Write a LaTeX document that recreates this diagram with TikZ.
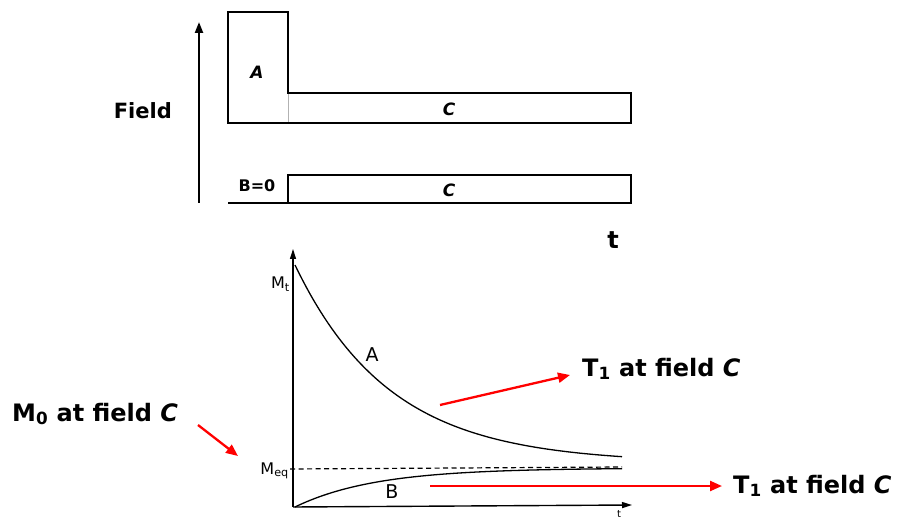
\documentclass[tikz,border=0pt]{standalone}
\usepackage{fontspec}
\setmainfont{DejaVu Sans}
\usetikzlibrary{arrows.meta}
\begin{document}
\begin{tikzpicture}[x=1pt,y=-1pt,
  box/.style={draw,line width=2.2pt,fill=white},
  big/.style={font=\fontsize{24}{28}\selectfont\bfseries,inner sep=0pt},
  mid/.style={font=\fontsize{21}{25}\selectfont\bfseries,inner sep=0pt},
  boxlbl/.style={font=\fontsize{17}{19}\selectfont\bfseries\itshape,inner sep=0pt},
  graphlbl/.style={font=\fontsize{16}{18}\selectfont,inner sep=0pt},
  redarr/.style={draw=red,line width=2.3pt,-{Triangle[length=12pt,width=10pt]}},
  axis/.style={line width=1.4pt,-{Triangle[length=10pt,width=6pt]}},
  curve/.style={line width=1.3pt}]
\useasboundingbox (0,0) rectangle (902,521);
% ---------- top: field sequence ----------
\coordinate (fb) at (199,203);
\coordinate (ft) at (199,22);
\draw[line width=2.2pt,-{Triangle[length=11pt,width=8pt]}] (fb) -- (ft);
\node[mid,anchor=east] (field) at (172,111) {Field};
\node[big] (tlbl) at (613,240) {t};
% upper sequence
\draw[box] (288,93) rectangle (631,123);
\coordinate (cA1) at (288,94);
\coordinate (cA2) at (288,122);
\draw[line width=2.2pt] (288,93) -- (288,12) -- (228,12) -- (228,123) -- (288,123);
\fill[white] (287,94.2) rectangle (289,121.8);
\draw[gray!60,line width=0.8pt] (cA1) -- (cA2);
\node[boxlbl] (la) at (257,72) {A};
\node[boxlbl] (lc1) at (449,109) {C};
% lower sequence
\coordinate (z0) at (228,203);
\coordinate (z1) at (288,203);
\draw[line width=2.2pt] (z0) -- (z1);
\draw[box] (288,175) rectangle (631,203);
\node[boxlbl,font=\fontsize{16}{18}\selectfont\bfseries] (lb0) at (257,186) {B=0};
\node[boxlbl] (lc2) at (449,190) {C};
% ---------- bottom: magnetisation graph ----------
\coordinate (o) at (293,507);
\coordinate (ytop) at (293,249);
\coordinate (xend) at (632,505);
\draw[axis] (o) -- (ytop);
\draw[axis] (o) -- (xend);
\node[graphlbl,font=\fontsize{10}{11}\selectfont] (tsmall) at (619,514) {t};
\node[graphlbl,anchor=east] (mt) at (290,284) {M\textsubscript{t}};
\node[graphlbl,anchor=east] (meq) at (289,471) {M\textsubscript{eq}};
\coordinate (d0) at (290,469);
\coordinate (d1) at (622,467);
\draw[line width=1.2pt,dash pattern=on 5pt off 3.5pt] (d0) -- (d1);
\draw[curve] plot[domain=295:622,samples=90] (\x,{463-198*exp(-(\x-295)/95)});
\draw[curve] plot[domain=295:622,samples=90] (\x,{468+39*(exp(-(\x-295)/80))});
\node[graphlbl,font=\fontsize{19}{21}\selectfont] (ca) at (372,355) {A};
\node[graphlbl,font=\fontsize{19}{21}\selectfont] (cb) at (392,492) {B};
% ---------- red annotations ----------
\node[big,anchor=west] (t1a) at (582,369) {T\textsubscript{1} at field \textit{C}};
\node[big,anchor=west] (t1b) at (733,486) {T\textsubscript{1} at field \textit{C}};
\node[big,anchor=west] (m0) at (12,414) {M\textsubscript{0} at field \textit{C}};
\coordinate (ra0) at (440,405);
\coordinate (ra1) at (570,375);
\coordinate (rb0) at (430,486);
\coordinate (rb1) at (722,486);
\coordinate (rc0) at (198,425);
\coordinate (rc1) at (238,456);
\draw[redarr] (ra0) -- (ra1);
\draw[redarr] (rb0) -- (rb1);
\draw[redarr] (rc0) -- (rc1);
\end{tikzpicture}
\end{document}
